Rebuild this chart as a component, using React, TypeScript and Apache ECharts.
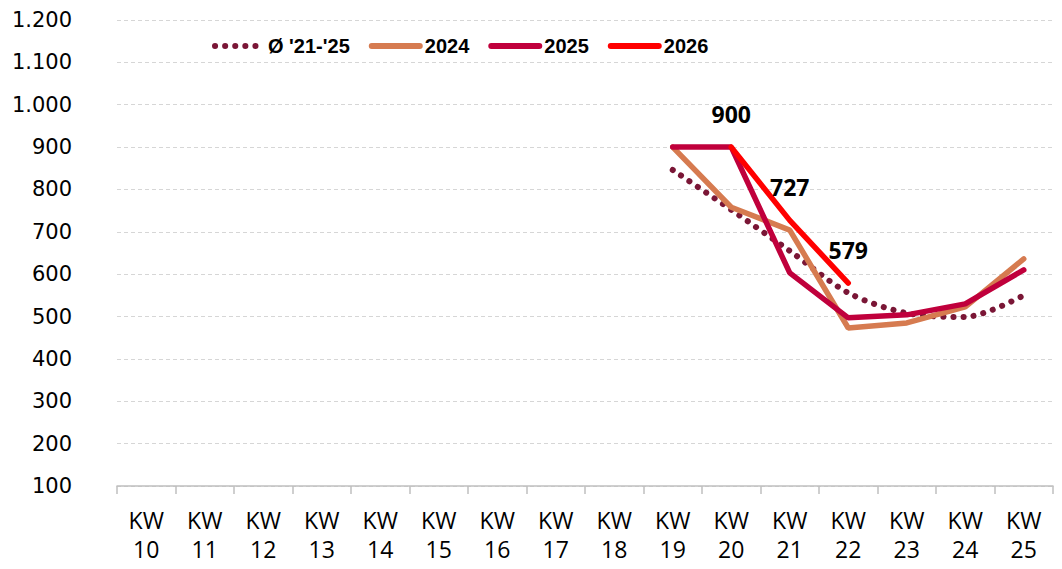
import React, { useEffect, useRef } from "react";
import * as echarts from "echarts";

const categories = ["KW\n10", "KW\n11", "KW\n12", "KW\n13", "KW\n14", "KW\n15", "KW\n16", "KW\n17", "KW\n18", "KW\n19", "KW\n20", "KW\n21", "KW\n22", "KW\n23", "KW\n24", "KW\n25"];
const avg2125 = [null, null, null, null, null, null, null, null, null, 846, 752, 655, 556, 508, 499, 550];
const y2024 = [null, null, null, null, null, null, null, null, null, 900, 758, 704, 473, 485, 523, 636];
const y2025 = [null, null, null, null, null, null, null, null, null, 900, 900, 603, 497, 504, 530, 610];
const y2026 = [null, null, null, null, null, null, null, null, null, null, 900, 727, 579, null, null, null];
const seriesNames = ["Ø '21-'25", "2024", "2025", "2026"];

export default function App() {
  const ref = useRef<HTMLDivElement>(null);
  useEffect(() => {
    const chart = echarts.init(ref.current!, null, { renderer: "svg" });
    const labelFont = "'Open Sans', 'Noto Sans', sans-serif";
    chart.setOption({
      animation: false,
      backgroundColor: "#ffffff",
      grid: { left: 117, right: 9, top: 20, bottom: 83, containLabel: false },
      legend: {
        left: 207,
        top: 31,
        itemWidth: 48,
        itemHeight: 14,
        itemGap: 19,
        itemStyle: { opacity: 0 },
        lineStyle: { width: 6, cap: "round" },
        textStyle: {
          fontFamily: "'Liberation Sans', Arial, sans-serif",
          fontWeight: "bold",
          fontSize: 20,
          color: "#000",
        },
        data: seriesNames,
      },
      xAxis: {
        type: "category",
        data: categories,
        boundaryGap: true,
        axisLine: { show: true, lineStyle: { color: "#bfbfbf", width: 1.5 } },
        axisTick: { show: true, length: 8, lineStyle: { color: "#bfbfbf", width: 1.5 } },
        axisLabel: {
          fontFamily: labelFont,
          fontSize: 23,
          color: "#000",
          lineHeight: 29,
          margin: 19,
          interval: 0,
        },
      },
      yAxis: {
        type: "value",
        min: 100,
        max: 1200,
        interval: 100,
        axisLine: { show: false },
        axisTick: { show: false },
        splitLine: { show: true, lineStyle: { color: "#d6d6d6", type: [4, 3], width: 1 } },
        axisLabel: {
          fontFamily: "'DejaVu Sans', sans-serif",
          fontSize: 21,
          color: "#000",
          margin: 45,
          formatter: (v: number) => v.toLocaleString("de-DE"),
        },
      },
      series: [
        {
          name: seriesNames[0],
          type: "line",
          data: avg2125,
          smooth: 0.3,
          showSymbol: false,
          symbol: "none",
          color: "#7a1636",
          lineStyle: { width: 6, type: [0.1, 10], cap: "round", color: "#7a1636" },
        },
        {
          name: seriesNames[1],
          type: "line",
          data: y2024,
          showSymbol: false,
          symbol: "none",
          color: "#d67b50",
          lineStyle: { width: 5.5, color: "#d67b50", cap: "round" },
        },
        {
          name: seriesNames[2],
          type: "line",
          data: y2025,
          showSymbol: false,
          symbol: "none",
          color: "#c0003c",
          lineStyle: { width: 5.5, color: "#c0003c", cap: "round" },
        },
        {
          name: seriesNames[3],
          type: "line",
          data: y2026,
          showSymbol: true,
          symbol: "circle",
          symbolSize: 0.1,
          color: "#ff0000",
          lineStyle: { width: 5.5, color: "#ff0000", cap: "round" },
          label: {
            show: true,
            position: "top",
            distance: 22,
            fontFamily: labelFont,
            fontWeight: "bold",
            fontSize: 23,
            color: "#000",
          },
        },
      ],
    });
    return () => chart.dispose();
  }, []);
  return <div ref={ref} style={{ position: "fixed", left: 0, top: 0, width: 1062, height: 569 }} />;
}
